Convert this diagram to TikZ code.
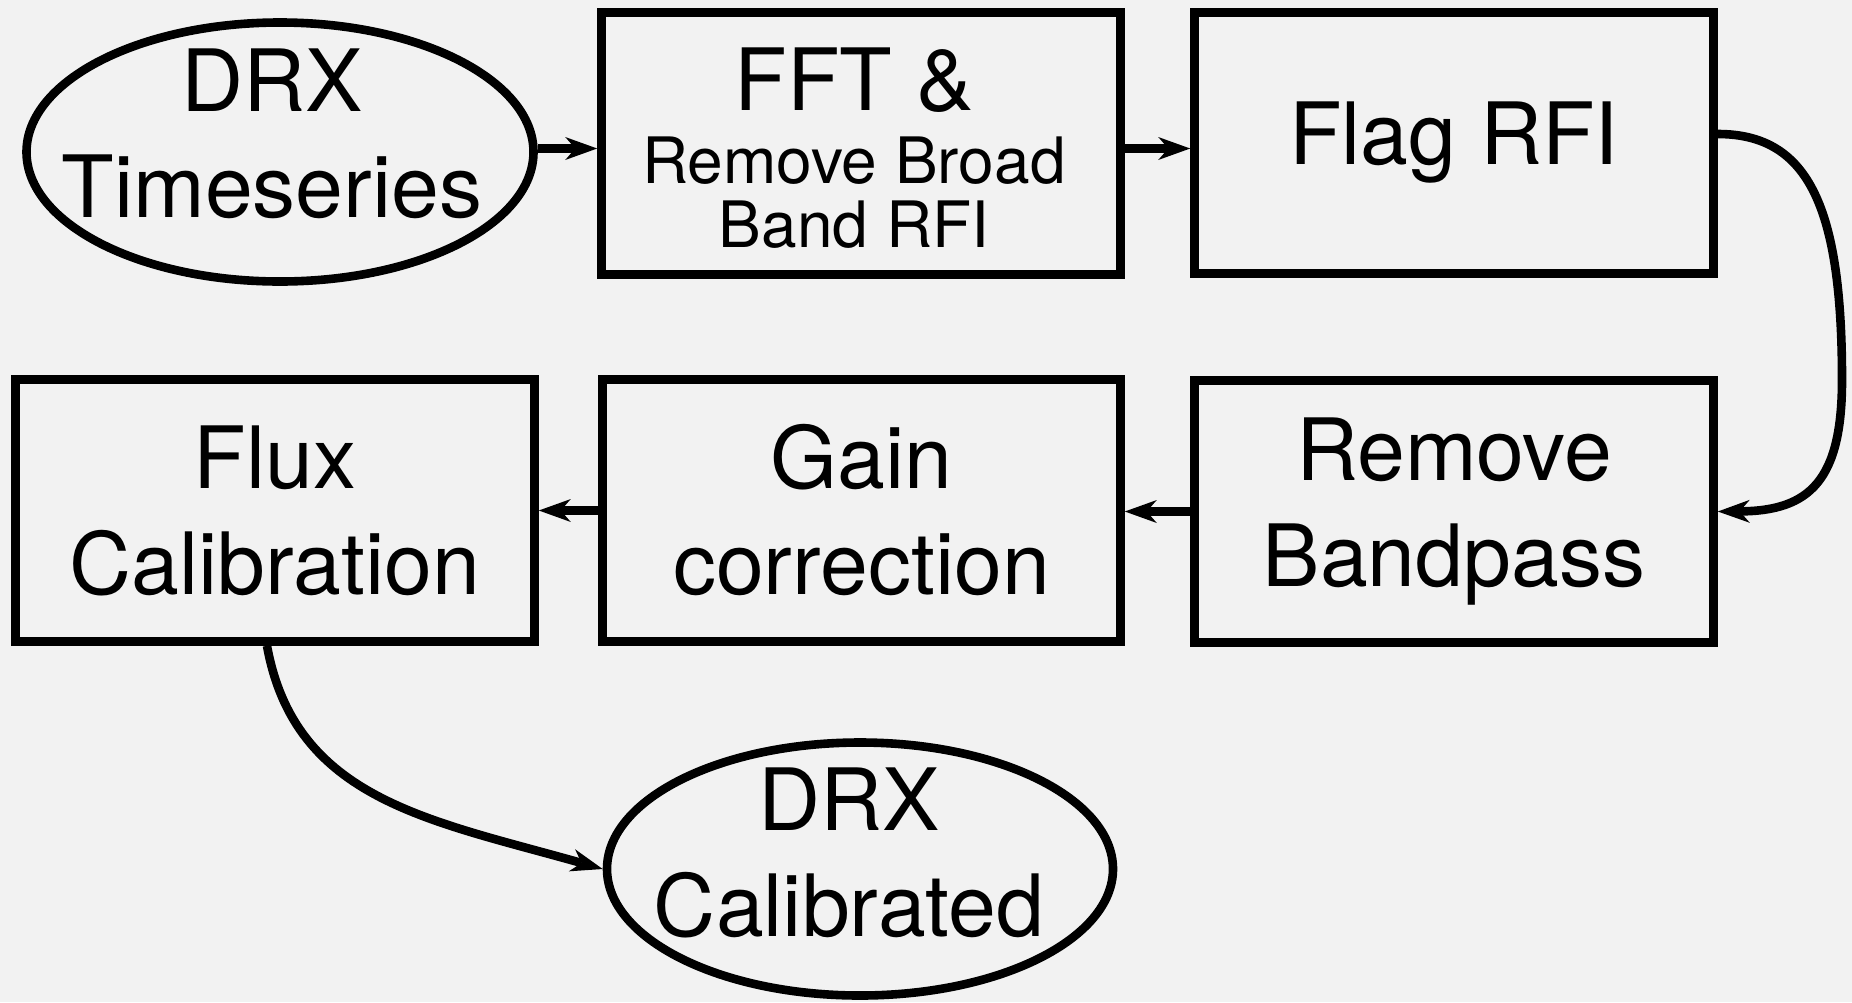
\documentclass[tikz,border=0pt]{standalone}
\usepackage{fontspec}
\setmainfont{TeX Gyre Heros}
\usetikzlibrary{shapes.geometric,arrows.meta}
\definecolor{bgpaper}{HTML}{F2F2F2}
\begin{document}
\begin{tikzpicture}[x=0.5pt,y=-0.5pt,
  every node/.style={line width=4.3pt, align=center, inner sep=0pt},
  bigtext/.style={font=\fontsize{43}{53}\selectfont},
  stagebox/.style={draw, rectangle, minimum width=259.5pt, minimum height=131pt, bigtext},
  terminal/.style={draw, ellipse, minimum width=253.5pt, minimum height=129.5pt},
  conn/.style={line width=4.3pt, -{Stealth[length=16pt, width=11.5pt, inset=5pt, line width=0pt]}}]

% canvas
\path[fill=bgpaper] (0,0) rectangle (1852,1002);

% start / end terminals
\node[terminal] (ts) at (280,152) {};
\node[bigtext] (tstext) at (272,134) {DRX\\Timeseries};
\node[terminal, minimum width=253pt, minimum height=126.5pt] (cal) at (860,869) {};
\node[bigtext] (caltext) at (849,853) {DRX\\Calibrated};

% processing stages
\node[stagebox] (fft) at (861,143.5) {};
\node[font=\fontsize{32}{32}\selectfont] (ffttext) at (854,148)
  {{\fontsize{43}{53}\selectfont FFT \&}\\[4.5pt]Remove Broad\\Band RFI};
\node[stagebox, minimum height=130.5pt] (flag) at (1454,143) {Flag RFI};
\node[stagebox] (bp) at (1454,511.5) {Remove\\Bandpass};
\node[stagebox, minimum width=259pt] (gain) at (861.5,510.5) {Gain\\correction};
\node[stagebox] (flux) at (275,510.5) {Flux\\Calibration};

% connectors
\coordinate (row1) at (0,148.5);
\draw[conn] (ts.east |- row1) -- (fft.west |- row1);
\draw[conn] (fft.east |- row1) -- (flag.west |- row1);
\draw[conn] ([yshift=4.5pt]flag.east) .. controls (1810,134) and (1842,210) .. (1842,380)
  .. controls (1842,480) and (1810,511) .. (bp.east);
\draw[conn] (bp.west) -- (gain.east |- bp.west);
\draw[conn] (gain.west) -- (flux.east |- gain.west);
\draw[conn] ([xshift=-4pt]flux.south) .. controls (295,800) and (430,820) .. (cal.west);
\end{tikzpicture}
\end{document}
